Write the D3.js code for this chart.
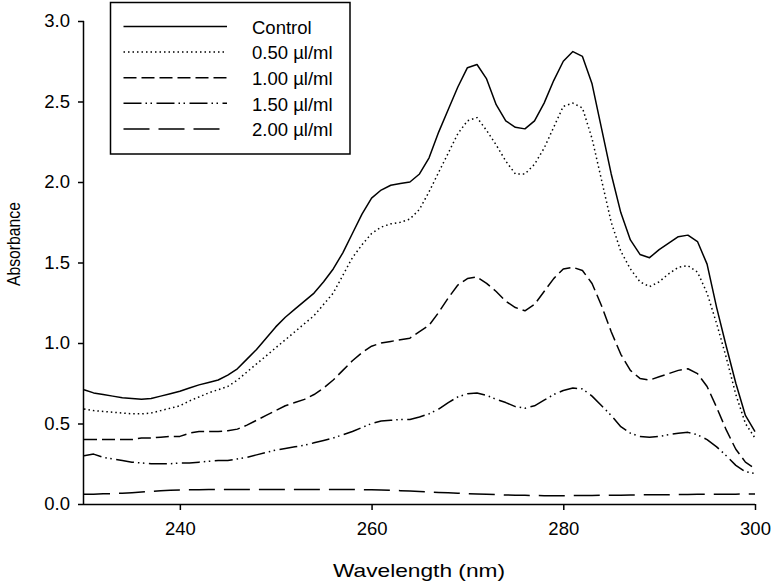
<!DOCTYPE html>
<html>
<head>
<meta charset="utf-8">
<script src="https://cdn.jsdelivr.net/npm/d3@7"></script>
<style>
  html, body { margin: 0; padding: 0; background: #fff; }
  svg { display: block; }
  text { font-family: "Liberation Sans", Arial, Helvetica, sans-serif; fill: #000; }
</style>
</head>
<body>
<svg id="chart" width="773" height="585"></svg>
<script>
// ---------- data ----------
const wavelengths = [
  230,231,232,233,234,235,236,237,238,239,
  240,241,242,243,244,245,246,247,248,249,
  250,251,252,253,254,255,256,257,258,259,
  260,261,262,263,264,265,266,267,268,269,
  270,271,272,273,274,275,276,277,278,279,
  280,281,282,283,284,285,286,287,288,289,
  290,291,292,293,294,295,296,297,298,299,
  300
];

const control = [
  0.71,0.69,0.68,0.67,0.66,0.655,0.65,0.655,0.67,0.685,
  0.70,0.72,0.74,0.755,0.77,0.80,0.84,0.90,0.96,1.03,
  1.10,1.16,1.21,1.26,1.31,1.38,1.46,1.56,1.68,1.80,
  1.90,1.95,1.98,1.99,2.00,2.05,2.15,2.31,2.45,2.59,
  2.71,2.73,2.64,2.48,2.38,2.34,2.33,2.38,2.49,2.63,
  2.75,2.81,2.78,2.61,2.33,2.05,1.81,1.64,1.55,1.53,
  1.58,1.62,1.66,1.67,1.63,1.49,1.22,0.98,0.75,0.55,
  0.45
];

const dose050 = [
  0.59,0.58,0.575,0.57,0.565,0.56,0.56,0.565,0.58,0.595,
  0.61,0.64,0.665,0.69,0.71,0.73,0.77,0.82,0.87,0.92,
  0.97,1.02,1.07,1.12,1.17,1.24,1.31,1.42,1.53,1.61,
  1.68,1.72,1.74,1.75,1.77,1.83,1.94,2.06,2.18,2.30,
  2.38,2.40,2.32,2.23,2.13,2.05,2.05,2.11,2.21,2.34,
  2.47,2.49,2.46,2.27,2.01,1.75,1.57,1.46,1.38,1.35,
  1.38,1.43,1.47,1.48,1.44,1.31,1.12,0.91,0.68,0.50,
  0.41
];

const dose100 = [
  0.40,0.40,0.40,0.40,0.40,0.40,0.41,0.41,0.415,0.42,
  0.42,0.44,0.45,0.45,0.45,0.455,0.465,0.49,0.52,0.55,
  0.58,0.61,0.63,0.65,0.68,0.72,0.77,0.83,0.89,0.94,
  0.98,1.00,1.01,1.02,1.03,1.07,1.11,1.19,1.28,1.36,
  1.40,1.41,1.37,1.32,1.26,1.22,1.20,1.24,1.32,1.40,
  1.46,1.47,1.45,1.37,1.23,1.07,0.93,0.83,0.78,0.77,
  0.79,0.81,0.83,0.84,0.81,0.73,0.60,0.46,0.34,0.26,
  0.22
];

const dose150 = [
  0.30,0.31,0.29,0.28,0.27,0.26,0.255,0.25,0.25,0.25,
  0.255,0.255,0.26,0.265,0.27,0.27,0.28,0.29,0.305,0.32,
  0.335,0.345,0.355,0.365,0.38,0.395,0.41,0.43,0.45,0.475,
  0.50,0.515,0.52,0.525,0.525,0.54,0.56,0.59,0.63,0.665,
  0.685,0.69,0.675,0.65,0.63,0.605,0.595,0.61,0.645,0.68,
  0.705,0.72,0.715,0.67,0.61,0.55,0.48,0.44,0.42,0.415,
  0.42,0.43,0.44,0.445,0.43,0.40,0.355,0.30,0.24,0.20,
  0.19
];

const dose200 = [
  0.060,0.061,0.063,0.065,0.067,0.070,0.074,0.078,0.082,0.085,
  0.087,0.088,0.089,0.090,0.090,0.090,0.090,0.090,0.090,0.090,
  0.090,0.090,0.090,0.090,0.090,0.090,0.090,0.090,0.090,0.089,
  0.088,0.087,0.085,0.083,0.080,0.078,0.075,0.072,0.070,0.067,
  0.064,0.062,0.060,0.058,0.056,0.055,0.054,0.053,0.052,0.052,
  0.052,0.052,0.053,0.053,0.054,0.055,0.055,0.056,0.057,0.057,
  0.058,0.058,0.059,0.059,0.060,0.060,0.060,0.061,0.061,0.062,
  0.062
];

const seriesNames = ["Control", "0.50 \u00b5l/ml", "1.00 \u00b5l/ml", "1.50 \u00b5l/ml", "2.00 \u00b5l/ml"];
const seriesValues = [control, dose050, dose100, dose150, dose200];
const xTicks = [240, 260, 280, 300];
const yTicks = [0.0, 0.5, 1.0, 1.5, 2.0, 2.5, 3.0];

(function () {
  // ---------- styles ----------
  const dashes = [null, "1.5,3", "13,5", "18,4,1.5,3.5,1.5,4.5", "26,9"];

  // ---------- layout ----------
  const svg = d3.select("#chart");
  const mLeft = 84, mRight = 755, mTop = 21, mBottom = 504;

  const x = d3.scaleLinear().domain([230, 300]).range([mLeft, mRight]);
  const y = d3.scaleLinear().domain([0, 3]).range([mBottom, mTop]);

  // axes
  const xAxis = d3.axisBottom(x).tickValues(xTicks).tickSize(6).tickPadding(12).tickFormat(d3.format("d"));
  const yAxis = d3.axisLeft(y).tickValues(yTicks).tickSize(6).tickPadding(8).tickFormat(d3.format(".1f"));

  const gx = svg.append("g").attr("transform", `translate(0,${mBottom})`).call(xAxis);
  const gy = svg.append("g").attr("transform", `translate(${mLeft},0)`).call(yAxis);
  [gx, gy].forEach(g => {
    g.select(".domain").attr("stroke", "#000").attr("stroke-width", 1.5);
    g.selectAll(".tick line").attr("stroke", "#000").attr("stroke-width", 1.5);
    g.selectAll(".tick text").attr("font-size", 18.5).attr("fill", "#000")
      .style("font-family", '"Liberation Sans", Arial, sans-serif');
  });
  gx.select(".domain").attr("d", `M${mLeft},0.5H${mRight}`);
  gy.select(".domain").attr("d", `M-0.5,${mTop}V${mBottom}`);

  // lines
  const line = d3.line()
    .x((d, i) => x(wavelengths[i]))
    .y(d => y(d))
    .curve(d3.curveLinear);

  seriesValues.forEach((vals, k) => {
    svg.append("path")
      .datum(vals)
      .attr("fill", "none")
      .attr("stroke", "#000")
      .attr("stroke-width", 1.5)
      .attr("stroke-linejoin", "round")
      .attr("stroke-dasharray", dashes[k])
      .attr("d", line);
  });

  // axis titles
  svg.append("text")
    .attr("x", 419).attr("y", 577)
    .attr("text-anchor", "middle")
    .attr("font-size", 18.5)
    .attr("textLength", 172)
    .attr("lengthAdjust", "spacingAndGlyphs")
    .text("Wavelength (nm)");

  svg.append("text")
    .attr("transform", "translate(20,244) rotate(-90)")
    .attr("text-anchor", "middle")
    .attr("font-size", 18)
    .attr("textLength", 84)
    .attr("lengthAdjust", "spacingAndGlyphs")
    .text("Absorbance");

  // legend
  const legend = svg.append("g");
  legend.append("rect")
    .attr("x", 110.5).attr("y", 2.5)
    .attr("width", 239.5).attr("height", 151.5)
    .attr("fill", "#fff").attr("stroke", "#000").attr("stroke-width", 1.5);

  seriesNames.forEach((name, k) => {
    const ly = 26.5 + k * 25.6;
    legend.append("line")
      .attr("x1", 123.5).attr("x2", 227)
      .attr("y1", ly).attr("y2", ly)
      .attr("stroke", "#000").attr("stroke-width", 1.5)
      .attr("stroke-dasharray", dashes[k]);
    legend.append("text")
      .attr("x", 252).attr("y", ly + 7.2)
      .attr("font-size", 18.5)
      .text(name);
  });
})();
</script>
</body>
</html>
